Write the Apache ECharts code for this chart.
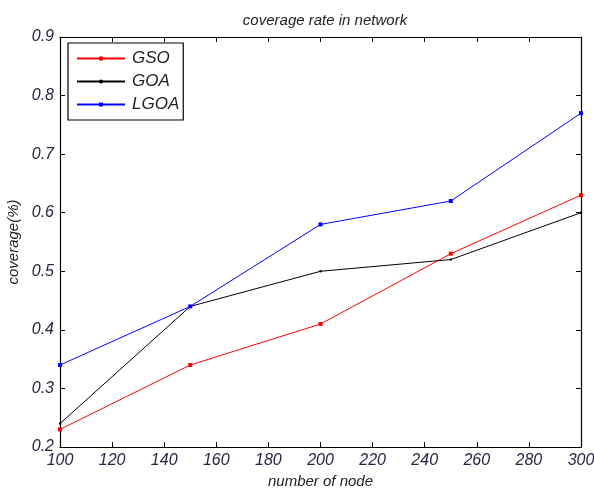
<!DOCTYPE html>
<html><head><meta charset="utf-8">
<script src="https://cdn.jsdelivr.net/npm/echarts@6/dist/echarts.min.js"></script>
<style>html,body{margin:0;padding:0;background:#fff}#c{width:594px;height:489px}</style>
</head><body><div id="c"></div>
<script>
const nodes = [100, 150, 200, 250, 300];
const gso = [0.23, 0.34, 0.41, 0.53, 0.63];
const goa = [0.24, 0.44, 0.50, 0.52, 0.60];
const lgoa = [0.34, 0.44, 0.58, 0.62, 0.77];
const seriesNames = ['GSO', 'GOA', 'LGOA'];

const chart = echarts.init(document.getElementById('c'));
const font = 'Liberation Sans, Arial, sans-serif';
const lab = {fontFamily: font, fontStyle: 'italic', fontSize: 16, color: '#262640'};
function axisBase(pos, show) {
  return {
    axisLine: {show: true, onZero: false, lineStyle: {color: '#000', width: 1.2}},
    axisTick: {show: true, inside: true, length: 5, lineStyle: {color: '#000'}},
    splitLine: {show: false},
    axisLabel: show ? Object.assign({margin: 6}, lab) : {show: false}
  };
}
const pair = (xs, ys) => xs.map((x, i) => [x, ys[i]]);
chart.setOption({
  animation: false,
  title: {text: 'coverage rate in network', left: 320, textAlign: 'center', top: 8,
    textStyle: {fontFamily: font, fontStyle: 'italic', fontWeight: 'normal', fontSize: 15, color: '#222'}},
  grid: {left: 60, right: 13, top: 37, bottom: 42, containLabel: false, outerBoundsMode: 'none'},
  legend: {
    orient: 'vertical', left: 68, top: 43,
    backgroundColor: '#fff', borderColor: '#000', borderWidth: 1.2,
    padding: [6, 4, 6, 8], itemGap: 4, itemWidth: 48, itemHeight: 5,
    textStyle: {fontFamily: font, fontStyle: 'italic', fontSize: 17, color: '#222', padding: [0, 0, 0, 2], lineHeight: 19},
    data: seriesNames
  },
  xAxis: [
    Object.assign({type: 'value', position: 'bottom', min: 100, max: 300, interval: 20,
      name: 'number of node', nameLocation: 'middle', nameGap: 26,
      nameTextStyle: {fontFamily: font, fontStyle: 'italic', fontSize: 15, color: '#222'}}, axisBase('bottom', true)),
    Object.assign({type: 'value', position: 'top', min: 100, max: 300, interval: 20}, axisBase('top', false))
  ],
  yAxis: [
    Object.assign({type: 'value', position: 'left', min: 0.2, max: 0.9, interval: 0.1,
      name: 'coverage(%)', nameLocation: 'middle', nameGap: 38,
      nameTextStyle: {fontFamily: font, fontStyle: 'italic', fontSize: 15, color: '#222'}}, axisBase('left', true)),
    Object.assign({type: 'value', position: 'right', min: 0.2, max: 0.9, interval: 0.1}, axisBase('right', false))
  ],
  series: [
    {name: 'GSO', type: 'line', data: pair(nodes, gso), symbol: 'rect', symbolSize: 4, showAllSymbol: true,
      lineStyle: {color: '#ff0000', width: 1}, itemStyle: {color: '#ff0000'}},
    {name: 'GOA', type: 'line', data: pair(nodes, goa), symbol: 'circle', symbolSize: 2.5,
      lineStyle: {color: '#000000', width: 1}, itemStyle: {color: '#000000'}},
    {name: 'LGOA', type: 'line', data: pair(nodes, lgoa), symbol: 'rect', symbolSize: 4,
      lineStyle: {color: '#0000ff', width: 1}, itemStyle: {color: '#0000ff'}}
  ]
});
</script></body></html>
